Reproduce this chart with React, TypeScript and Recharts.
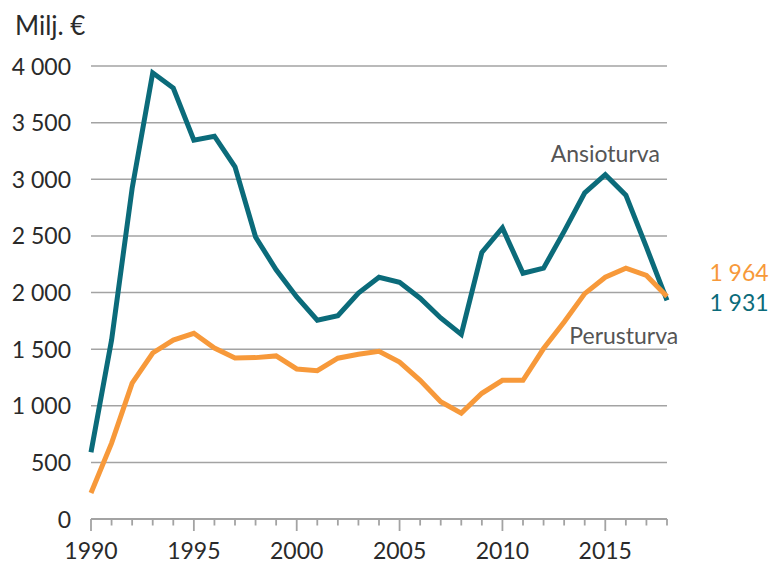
import { LineChart, Line, XAxis, YAxis, CartesianGrid, ReferenceDot } from "recharts";

const years = [
  1990, 1991, 1992, 1993, 1994, 1995, 1996, 1997, 1998, 1999, 2000, 2001, 2002, 2003, 2004,
  2005, 2006, 2007, 2008, 2009, 2010, 2011, 2012, 2013, 2014, 2015, 2016, 2017, 2018,
];
const ansioturva = [
  590, 1580, 2920, 3940, 3805, 3345, 3380, 3110, 2490, 2200, 1960, 1755, 1795, 1995, 2135,
  2090, 1950, 1775, 1630, 2355, 2570, 2170, 2215, 2540, 2880, 3040, 2860, 2400, 1931,
];
const perusturva = [
  230, 670, 1200, 1466, 1580, 1640, 1510, 1422, 1425, 1440, 1325, 1310, 1420, 1455, 1480,
  1385, 1225, 1035, 935, 1110, 1225, 1225, 1505, 1740, 1990, 2135, 2215, 2150, 1964,
];
const yTicks = [0, 500, 1000, 1500, 2000, 2500, 3000, 3500, 4000];

const data = years.map((year, i) => ({ year, ansioturva: ansioturva[i], perusturva: perusturva[i] }));

const TEAL = "#0b6b7a";
const ORANGE = "#f7993a";
const GRID = "#a3a3a3";
const FONT = "Lato, 'Open Sans', sans-serif";

const fmt = (v: number) => String(v).replace(/\B(?=(\d{3})+(?!\d))/g, " ");

const XTick = ({ x, y, payload }: any) => {
  const major = payload.value % 5 === 0;
  return (
    <g>
      <line x1={x} x2={x} y1={y} y2={y + (major ? 12 : 6.5)} stroke={GRID} strokeWidth={1.8} />
      {major && payload.value < 2018 && (
        <text x={x} y={y + 40} textAnchor="middle" fontSize={23} fill="#2a2a2a" fontFamily={FONT}>
          {payload.value}
        </text>
      )}
    </g>
  );
};

const YTick = ({ y, payload }: any) => (
  <text x={71} y={y + 8.5} textAnchor="end" fontSize={23} fill="#2a2a2a" fontFamily={FONT}>
    {fmt(payload.value)}
  </text>
);

const note = (value: string, fill: string) => ({
  value,
  position: "center" as const,
  fill,
  fontSize: 23,
  fontFamily: FONT,
});

export default function App() {
  return (
    <div style={{ position: "absolute", left: 0, top: 0, width: 769, height: 565, background: "#fff" }}>
      <LineChart width={769} height={565} data={data} margin={{ top: 66, right: 102, bottom: 0, left: 1 }}>
        <CartesianGrid vertical={false} stroke={GRID} strokeWidth={1.5} />
        <XAxis
          dataKey="year"
          type="number"
          domain={[1990, 2018]}
          ticks={years}
          interval={0}
          height={46}
          tickSize={0}
          tickMargin={0}
          tickLine={false}
          axisLine={{ stroke: GRID, strokeWidth: 2 }}
          tick={<XTick />}
        />
        <YAxis
          width={90}
          domain={[0, 4000]}
          ticks={yTicks}
          axisLine={false}
          tickLine={false}
          tick={<YTick />}
        />
        <Line dataKey="ansioturva" stroke={TEAL} strokeWidth={5} dot={false} isAnimationActive={false} />
        <Line dataKey="perusturva" stroke={ORANGE} strokeWidth={5} dot={false} isAnimationActive={false} />
        <ReferenceDot x={2015.0} y={3227} r={0} ifOverflow="visible" label={note("Ansioturva", "#555")} />
        <ReferenceDot x={2015.9} y={1620} r={0} ifOverflow="visible" label={note("Perusturva", "#555")} />
        <ReferenceDot x={2021.5} y={2172} r={0} ifOverflow="visible" label={note("1 964", ORANGE)} />
        <ReferenceDot x={2021.5} y={1907} r={0} ifOverflow="visible" label={note("1 931", TEAL)} />
      </LineChart>
      <div
        style={{
          position: "absolute",
          left: 15,
          top: 12,
          fontSize: 26,
          lineHeight: "26px",
          fontFamily: FONT,
          color: "#2a2a2a",
        }}
      >
        Milj. €
      </div>
    </div>
  );
}
